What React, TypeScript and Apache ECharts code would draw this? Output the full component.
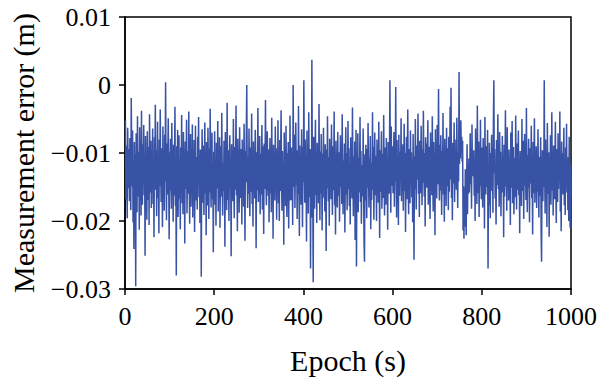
import React, { useEffect, useRef } from "react";
import * as echarts from "echarts";

// Measurement error in millimetres, one value per epoch (1 s) from epoch 1 to 1000
const errorsMm: number[] = [
  -5.2, -16.8, -8.9, -13.5, -19.6, -6.3, -11.8, -15.2, -9.4, -17.1, -7.8, -12.6, -18.4, -1.9, -10.3, -14.9, -6.7, -20.2, -11.1, -24.1,
  -8.4, -15.6, -10.2, -29.6, -7.1, -13.9, -18.7, -4.6, -12.3, -16.4, -9.8, -21.3, -6.2, -14.1, -11.5, -19.2, -3.8, -13.3, -17.6, -8.7,
  -12.9, -5.9, -16.2, -10.7, -25.1, -7.5, -14.6, -11.4, -19.8, -6.8, -13.7, -16.9, -9.1, -20.6, -4.3, -12.2, -15.8, -8.2, -18.1, -10.9,
  -14.3, -6.4, -17.5, -11.9, -22.4, -7.7, -13.1, -2.9, -15.4, -9.6, -19.3, -12.7, -5.4, -16.6, -10.1, -21.8, -8.0, -14.8, -3.6, -12.4,
  -17.2, -9.3, -13.6, -20.9, -6.1, -15.1, -11.2, -18.5, -7.3, -14.2, 0.4, -12.0, -19.9, -8.6, -16.1, -10.5, -4.9, -13.8, -22.7, -9.9,
  -15.5, -7.9, -12.8, -18.2, -5.6, -14.4, -10.4, -20.1, -8.8, -16.3, -11.7, -3.2, -17.8, -13.2, -28.0, -9.0, -15.0, -6.6, -19.4, -12.1,
  -7.4, -16.7, -11.0, -21.2, -9.2, -14.0, -4.4, -17.4, -12.5, -19.0, -6.9, -13.4, -10.0, -23.3, -8.3, -15.3, -11.6, -5.1, -18.9, -13.0,
  -9.7, -16.0, -3.9, -14.7, -20.4, -10.8, -7.2, -17.9, -12.2, -15.7, -5.8, -19.5, -11.3, -13.8, -8.1, -21.6, -14.5, -6.0, -17.0, -10.6,
  -13.9, -18.3, -7.6, -12.9, -4.7, -16.5, -10.3, -20.3, -9.5, -14.1, -28.2, -11.9, -6.5, -17.3, -13.5, -8.9, -19.1, -12.3, -5.5, -15.9,
  -10.7, -22.1, -8.4, -14.6, -17.7, -6.3, -12.6, -19.7, -9.3, -15.8, -3.5, -13.3, -18.0, -11.4, -7.0, -16.8, -12.0, -24.6, -9.8, -14.9,
  -6.8, -17.6, -11.1, -20.7, -8.5, -13.7, -15.2, -5.3, -18.6, -10.2, -14.4, -7.7, -21.0, -12.7, -9.0, -16.4, -4.1, -13.6, -19.2, -11.5,
  -15.6, -8.2, -12.4, -23.8, -6.9, -14.8, -10.9, -18.4, -2.6, -13.1, -16.9, -9.6, -20.0, -11.8, -7.4, -15.1, -12.8, -25.2, -8.7, -14.2,
  -10.4, -17.1, -5.0, -13.9, -19.6, -9.1, -15.4, -11.2, -3.0, -16.2, -12.5, -21.5, -7.9, -14.7, -10.0, -18.8, -6.2, -13.0, -16.6, -9.4,
  -12.0, -20.5, -8.0, -15.0, -11.6, -17.9, -5.7, -13.4, -22.9, -9.7, -14.3, -7.1, 0.0, -12.2, -18.1, -10.6, -16.0, -6.4, -13.6, -19.3,
  -9.2, -15.7, -11.4, -4.2, -17.5, -12.9, -20.8, -8.3, -14.0, -10.8, -16.7, -6.6, -13.2, -24.0, -9.9, -15.5, -11.0, -3.4, -17.2, -12.6,
  -14.5, -7.5, -19.0, -10.1, -16.1, -12.1, -5.9, -18.3, -9.0, -13.7, -21.9, -8.6, -15.3, -11.7, -2.2, -14.1, -17.7, -10.3, -6.8, -13.0,
  -16.3, -9.5, -20.2, -12.4, -7.8, -15.9, -11.1, -18.7, -4.8, -13.5, -10.7, -22.6, -8.8, -14.6, -12.8, -17.0, -6.1, -15.2, -9.3, -19.8,
  -11.3, -14.0, -5.2, -17.4, -12.3, -20.0, -8.1, -15.6, -10.5, -3.7, -13.8, -18.5, -9.7, -16.4, -12.0, -23.5, -7.0, -14.4, -11.0, -17.8,
  -6.0, -13.3, -19.4, -10.0, -15.8, -8.4, -21.1, -12.6, -14.9, -4.5, -17.0, -11.5, -9.2, -16.9, -13.1, -20.6, 0.0, -10.9, -15.0, -7.3,
  -18.1, -12.2, -5.5, -14.7, -9.6, -19.7, -11.8, -16.0, -3.1, -13.9, -22.2, -8.9, -15.4, -10.4, -17.6, -6.5, -12.7, -20.9, -9.1, -14.3,
  0.7, -11.7, -17.3, -8.0, -15.1, -12.9, -23.0, -6.7, -14.6, -10.2, -18.9, -4.0, -13.6, -16.5, -9.4, -27.0, -12.0, -19.5, 3.7, -11.2,
  -15.7, -29.0, -7.6, -13.5, -18.2, -10.8, -5.1, -16.2, -12.4, -20.3, -8.5, -14.2, -11.3, -17.4, -2.8, -13.0, -19.9, -9.8, -15.9, -7.2,
  -12.8, -21.4, -10.1, -16.6, -6.3, -14.5, -11.9, -18.6, -8.7, -13.7, -24.4, -9.5, -15.2, -4.6, -12.1, -17.1, -10.6, -20.7, -7.9, -14.8,
  -11.4, -16.8, -5.8, -13.2, -19.1, -9.0, -15.5, -12.5, -3.9, -17.7, -10.3, -22.0, -8.2, -14.0, -11.6, -18.0, -6.9, -13.8, -16.3, -9.9,
  -20.1, -12.3, -7.4, -15.0, -10.9, -17.5, -4.3, -13.4, -19.0, -11.1, -14.7, -8.6, -21.7, -12.6, -6.2, -16.1, -10.0, -18.4, -13.1, -5.3,
  -15.3, -9.3, -17.8, -12.0, -20.5, -7.7, -14.1, -11.5, -16.7, -3.3, -13.6, -19.3, -10.5, -15.6, -8.3, -22.8, -12.9, -6.6, -26.7, -11.0,
  -14.4, -7.1, -18.7, -10.7, -15.8, -12.2, -4.7, -17.2, -9.7, -20.4, -13.3, -11.8, -16.4, -6.4, -14.9, -23.2, -26.0, -10.2, -17.0, -8.8,
  -13.5, -19.6, -9.4, -15.1, -5.6, -12.7, -18.0, -10.8, -14.3, -7.5, -21.2, -11.4, -16.9, -13.0, -4.0, -15.4, -9.1, -19.8, -12.4, -7.0,
  -16.2, -10.4, -13.9, -20.0, -8.0, -14.6, -11.2, -17.3, -5.4, -12.8, -22.5, -9.6, -15.7, -11.9, -6.8, -18.2, -13.2, -10.1, -16.6, -4.4,
  -14.0, -19.2, -9.2, -12.5, -17.6, -7.8, -15.0, -11.0, -21.3, -8.4, -13.7, -16.0, -10.6, 0.7, -12.3, -18.8, -6.1, -14.8, -11.7, -9.0,
  -15.9, -12.1, -6.9, -17.9, -10.3, -14.2, -0.3, -13.1, -19.5, -8.1, -15.2, -11.3, -20.6, -7.3, -13.6, -16.3, -9.8, -12.7, -4.9, -17.1,
  -10.9, -14.5, -8.7, -18.5, -12.0, -5.7, -15.6, -10.0, -21.6, -13.4, -7.6, -16.8, -11.6, -3.6, -14.1, -19.0, -9.4, -12.9, -17.4, -6.7,
  -13.8, -9.9, -16.5, -11.2, -20.2, -7.2, -14.7, -25.7, -10.5, -15.3, -5.0, -12.6, -18.3, -8.9, -13.9, -11.5, -4.2, -16.0, -10.7, -19.4,
  -8.2, -13.0, -15.9, -6.0, -12.4, -17.7, -9.5, -14.4, -3.8, -11.8, -16.4, -10.0, -20.8, -7.7, -13.3, -8.6, -15.1, -11.1, -5.2, -17.6,
  -12.2, -9.1, -14.8, -19.7, -7.0, -13.5, -10.8, -16.2, -4.6, -12.8, -18.6, -8.4, -14.0, -11.4, -22.1, -6.5, -13.7, -10.2, -16.7, -5.9,
  -14.6, -11.0, -0.6, -13.2, -17.0, -8.8, -15.5, -7.4, -12.1, -19.1, -9.7, -14.3, -4.1, -16.1, -11.3, -20.1, -7.9, -13.6, -10.4, -17.8,
  -6.3, -14.9, -9.3, -12.4, -18.4, -7.6, -15.7, -11.7, -3.2, -13.9, -0.4, -16.6, -10.1, -19.9, -8.5, -14.5, -12.3, -5.5, -17.2, -10.9,
  -13.1, -8.0, -15.4, -4.8, -12.0, -18.1, -9.9, -14.2, 1.9, -11.6, -6.9, -10.8, -5.2, -9.4, -7.6, -11.3, -8.2, -21.4, -14.9, -22.6,
  -15.2, -20.8, -12.4, -17.3, -22.1, -14.1, -8.7, -19.0, -12.8, -16.0, -10.8, -15.8, -12.9, -7.1, -14.6, -11.2, -18.2, -5.8, -13.4, -9.9,
  -13.4, -9.6, -16.3, -11.9, -20.0, -6.4, -14.0, -10.3, -17.5, -3.0, -12.7, -15.9, -8.3, -19.4, -11.5, -14.8, -5.1, -13.0, -16.8, -9.2,
  -12.5, -18.0, -7.8, -14.4, -10.6, -21.1, -4.7, -13.3, -16.1, -9.0, -15.0, -11.8, -6.6, -27.0, -12.2, -17.7, -8.5, -14.3, -19.6, -10.0,
  -15.6, -7.3, -13.6, -11.0, -18.8, -5.5, 0.7, -12.9, -9.4, -16.7, -13.9, -20.5, -8.1, -14.7, -10.8, -4.3, -15.3, -11.4, -17.9, -6.9,
  -13.2, -9.8, -19.3, -12.1, -15.8, -7.5, -14.1, -10.5, -22.4, -8.8, -16.4, -12.6, -3.7, -14.9, -11.1, -18.5, -6.2, -13.5, -10.2, -17.0,
  -9.5, -14.6, -12.3, -20.6, -7.0, -15.1, -11.7, -5.3, -17.4, -13.0, -9.1, -19.0, -14.2, -10.7, -16.5, -4.5, -12.8, -18.3, -8.6, -15.4,
  -11.3, -6.7, -16.2, -12.0, -21.8, -9.7, -14.0, -10.1, -17.8, -5.0, -13.7, -15.6, -8.2, -19.7, -12.4, -7.2, -14.8, -11.5, -16.9, -3.4,
  -13.5, -18.7, -10.3, -15.2, -7.9, -12.7, -20.2, -9.3, -14.5, -11.9, -6.0, -16.6, -13.1, -22.0, -8.4, -15.9, -10.9, -4.9, -17.3, -12.2,
  -14.3, -9.0, -18.1, -11.2, -15.7, -6.5, -13.8, -19.5, -10.6, -16.3, -12.5, -7.7, -21.4, -26.0, -13.2, -9.6, -17.1, -11.0, -15.0, 0.7,
  -12.9, -18.9, -8.0, -14.6, -10.4, -20.9, -5.6, -13.4, -16.0, -9.9, -22.3, -11.6, -14.1, -7.4, -17.6, -12.0, -4.0, -15.5, -10.2, -19.2,
  -8.9, -13.6, -16.8, -11.3, -5.4, -14.9, -20.3, -9.4, -12.6, -17.2, -7.1, -15.3, -10.8, -13.9, -3.9, -18.6, -11.7, -21.5, -8.3, -14.4,
  -10.0, -16.1, -12.8, -6.3, -17.7, -11.5, -19.1, -9.2, -14.7, -5.7, -15.8, -12.3, -18.4, -10.6, -20.0, -7.6, -13.1, -21.0, -11.8, -16.4,
];

const firstEpoch = 1;
const epochStep = 1;

const xTicks = { min: 0, max: 1000, interval: 200 };
const yTicks = { min: -0.03, max: 0.01, interval: 0.01 };

const xTitle = "Epoch (s)";
const yTitle = "Measurement error (m)";

const FONT = "'Liberation Serif', 'DejaVu Serif', serif";

function formatY(v: number): string {
  const r = Math.round(v * 1000) / 1000;
  if (r === 0) return "0";
  const s = Math.abs(r).toFixed(2);
  return (r < 0 ? "\u2212" : "") + s;
}

function formatX(v: number): string {
  return String(Math.round(v));
}

export default function App() {
  const ref = useRef<HTMLDivElement>(null);

  useEffect(() => {
    if (!ref.current) return;
    const chart = echarts.init(ref.current, undefined, { renderer: "svg" });
    const data = errorsMm.map((v, i) => [firstEpoch + i * epochStep, v / 1000]);
    const axisLineStyle = { color: "#000", width: 1.5 };
    chart.setOption({
      animation: false,
      backgroundColor: "#fff",
      grid: {
        left: 122,
        right: 27,
        top: 17,
        bottom: 91,
        show: true,
        borderColor: "#000",
        borderWidth: 1.5,
      },
      xAxis: {
        type: "value",
        min: xTicks.min,
        max: xTicks.max,
        interval: xTicks.interval,
        name: xTitle,
        nameLocation: "middle",
        nameGap: 56,
        nameTextStyle: { fontFamily: FONT, fontSize: 30, color: "#000" },
        axisLine: { show: true, onZero: false, lineStyle: axisLineStyle },
        axisTick: { show: true, length: 6, lineStyle: axisLineStyle },
        axisLabel: { fontFamily: FONT, fontSize: 26, color: "#000", margin: 14, formatter: formatX },
        splitLine: { show: false },
      },
      yAxis: {
        type: "value",
        min: yTicks.min,
        max: yTicks.max,
        interval: yTicks.interval,
        name: yTitle,
        nameLocation: "middle",
        nameGap: 87,
        nameTextStyle: { fontFamily: FONT, fontSize: 30, color: "#000" },
        axisLine: { show: true, onZero: false, lineStyle: axisLineStyle },
        axisTick: { show: true, length: 6, lineStyle: axisLineStyle },
        axisLabel: { fontFamily: FONT, fontSize: 26, color: "#000", margin: 14, formatter: formatY },
        splitLine: { show: false },
      },
      series: [
        {
          type: "line",
          data,
          showSymbol: false,
          symbol: "none",
          lineStyle: { color: "#3852a6", width: 1.5 },
          silent: true,
        },
      ],
    });
    return () => chart.dispose();
  }, []);

  return (
    <div
      ref={ref}
      style={{ position: "fixed", left: 0, top: 0, width: 600, height: 380 }}
    />
  );
}
